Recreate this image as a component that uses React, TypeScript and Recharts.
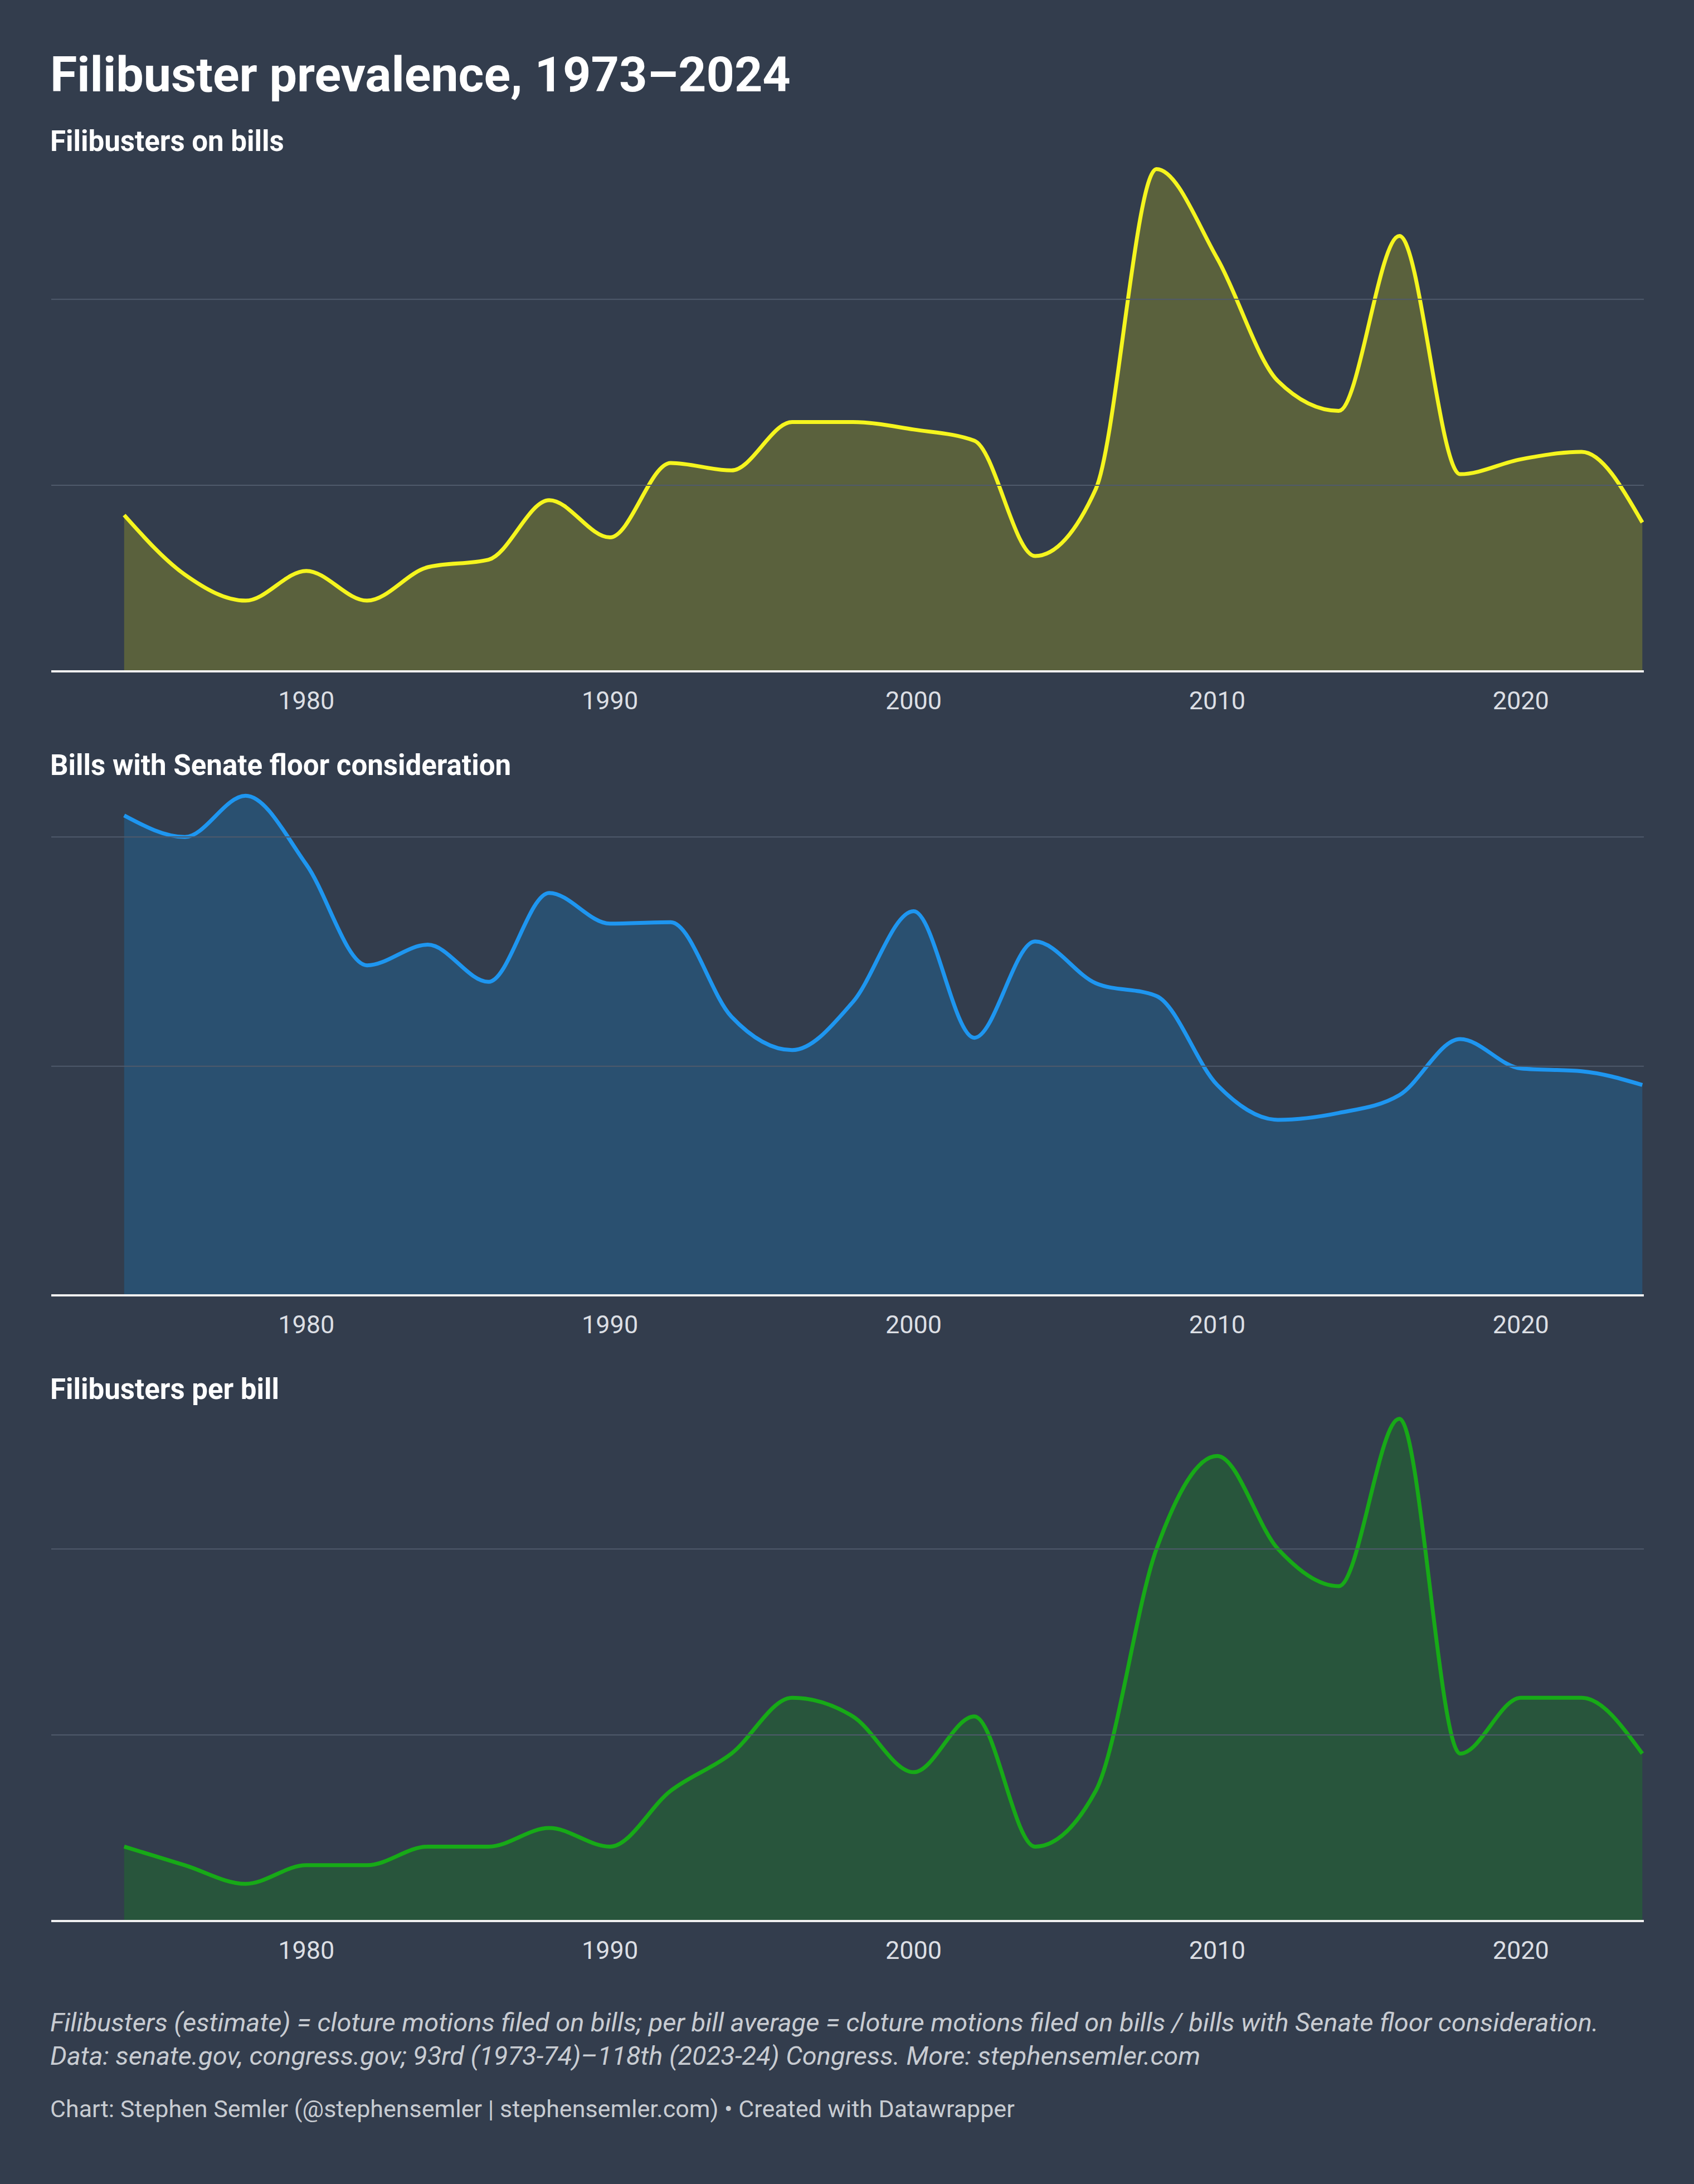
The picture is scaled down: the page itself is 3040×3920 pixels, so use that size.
import React from "react";
import { AreaChart, Area, XAxis, YAxis, ReferenceLine } from "recharts";

const years = [1974, 1976, 1978, 1980, 1982, 1984, 1986, 1988, 1990, 1992, 1994, 1996, 1998, 2000, 2002, 2004, 2006, 2008, 2010, 2012, 2014, 2016, 2018, 2020, 2022, 2024];
const filibusters = [42, 26, 19, 27, 19, 28, 30, 46, 36, 56, 54, 67, 67, 65, 62, 31, 49, 135, 111, 78, 70, 117, 53, 57, 59, 40];
const bills = [1047, 1000, 1090, 940, 720, 765, 684, 878, 811, 814, 608, 535, 640, 838, 562, 772, 681, 653, 459, 383, 398, 437, 559, 495, 489, 459];
const perBill = [0.04, 0.03, 0.02, 0.03, 0.03, 0.04, 0.04, 0.05, 0.04, 0.07, 0.09, 0.12, 0.11, 0.08, 0.11, 0.04, 0.07, 0.2, 0.25, 0.2, 0.18, 0.27, 0.09, 0.12, 0.12, 0.09];
const xTicks = [1980, 1990, 2000, 2010, 2020];

const BG = "#333d4d";
const FONT = "Roboto, 'Noto Sans', sans-serif";

type PanelProps = {
  values: number[];
  top: number;
  plotH: number;
  domain: [number, number];
  ticks: number[];
  fmt: (v: number) => string;
  stroke: string;
  fill: string;
};

function Panel({ values, top, plotH, domain, ticks, fmt, stroke, fill }: PanelProps) {
  const data = years.map((y, i) => ({ year: y, v: values[i] }));
  const yTick = (p: any) => (
    <text key={p.index} x={0} y={p.y - 26} fill="#a9b0bb" fontSize={44} fontFamily={FONT} textAnchor="start">
      {fmt(p.payload.value)}
    </text>
  );
  return (
    <div style={{ position: "absolute", left: 92, top }}>
      <AreaChart width={2858} height={plotH + 110} data={data} margin={{ top: 0, right: 0, bottom: 0, left: 0 }}>
        <XAxis dataKey="year" type="number" domain={[1971.6, 2024.05]} allowDataOverflow ticks={xTicks}
          tickLine={false} axisLine={false} height={110}
          tick={{ fill: "#dcdfe4", fontSize: 45, fontFamily: FONT }} tickMargin={30} />
        <YAxis width={0} domain={domain} ticks={ticks} axisLine={false} tickLine={false} tick={yTick} allowDataOverflow />
        {ticks.slice(1).map((t) => (
          <ReferenceLine key={t} y={t} stroke="#4f5a6b" strokeWidth={2} />
        ))}
        <Area type="monotone" dataKey="v" stroke={stroke} strokeWidth={7} fill={fill} fillOpacity={1} isAnimationActive={false} />
        <ReferenceLine y={0} stroke="#f0f0f0" strokeWidth={4} />
      </AreaChart>
    </div>
  );
}

const text = (t: string, top: number, size: number, extra: React.CSSProperties = {}) => (
  <div style={{ position: "absolute", left: 90, top, fontSize: size, fontFamily: FONT, color: "#fff", lineHeight: 1, whiteSpace: "nowrap", ...extra }}>{t}</div>
);

export default function App() {
  if (typeof document !== "undefined") document.body.style.margin = "0";
  return (
    <div style={{ position: "relative", width: 3040, height: 3920, background: BG, overflow: "hidden" }}>
      {text("Filibuster prevalence, 1973–2024", 90, 88, { fontWeight: 700 })}
      {text("Filibusters on bills", 228, 51, { fontWeight: 700 })}
      {text("Bills with Senate floor consideration", 1348, 51, { fontWeight: 700 })}
      {text("Filibusters per bill", 2468, 51, { fontWeight: 700 })}
      <Panel values={filibusters} top={270} plotH={935} domain={[0, 140]} ticks={[0, 50, 100]} fmt={(v) => String(v)} stroke="#f5f51e" fill="#5a613d" />
      <Panel values={bills} top={1420} plotH={905} domain={[0, 1100]} ticks={[0, 500, 1000]} fmt={(v) => v.toLocaleString("en-US")} stroke="#1e96f0" fill="#2a5070" />
      <Panel values={perBill} top={2513} plotH={935} domain={[0, 0.28]} ticks={[0, 0.1, 0.2]} fmt={(v) => v.toFixed(2)} stroke="#17aa17" fill="#28553c" />
      {text("Filibusters (estimate) = cloture motions filed on bills; per bill average = cloture motions filed on bills / bills with Senate floor consideration.", 3606, 47, { fontStyle: "italic", color: "#c8ccd2" })}
      {text("Data: senate.gov, congress.gov; 93rd (1973-74)–118th (2023-24) Congress. More: stephensemler.com", 3666, 47, { fontStyle: "italic", color: "#c8ccd2" })}
      {text("Chart: Stephen Semler (@stephensemler | stephensemler.com) • Created with Datawrapper", 3764, 43, { color: "#c8ccd2" })}
    </div>
  );
}
